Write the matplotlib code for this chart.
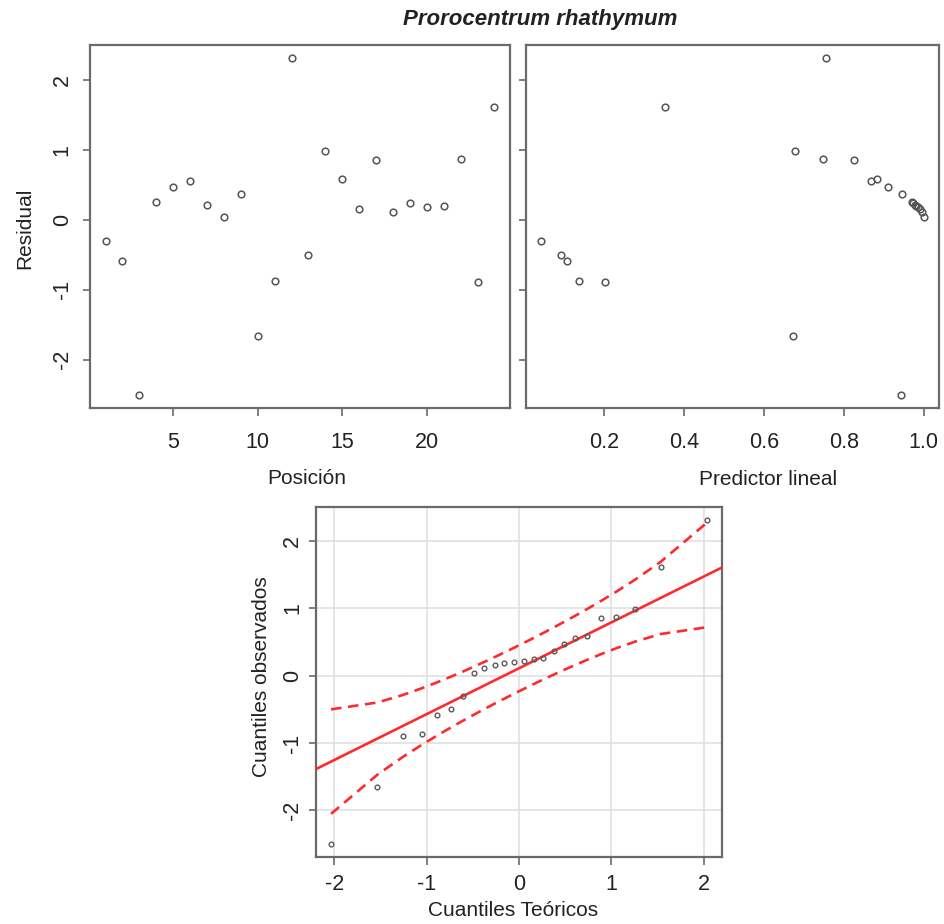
import numpy as np
import matplotlib
matplotlib.use("Agg")
import matplotlib.pyplot as plt
from statistics import NormalDist

# ---------------- data ----------------
posicion = list(range(1, 25))
residual = [-0.30, -0.59, -2.50, 0.26, 0.47, 0.56, 0.21, 0.04, 0.37, -1.66,
            -0.87, 2.31, -0.50, 0.99, 0.59, 0.16, 0.85, 0.11, 0.24, 0.19,
            0.20, 0.87, -0.89, 1.61]
predictor = [0.042, 0.107, 0.9425, 0.970, 0.911, 0.869, 0.977, 1.000, 0.945, 0.673,
             0.137, 0.755, 0.092, 0.6775, 0.883, 0.990, 0.825, 0.995, 0.973, 0.985,
             0.981, 0.748, 0.201, 0.352]
ticks_pos = [5, 10, 15, 20]
ticks_pred = [0.2, 0.4, 0.6, 0.8, 1.0]
tick_labels_pred = ["0.2", "0.4", "0.6", "0.8", "1.0"]
ticks_res = [-2, -1, 0, 1, 2]
ticks_qq = [-2, -1, 0, 1, 2]

title = "Prorocentrum rhathymum"

# ---------------- style ----------------
plt.rcParams['font.family'] = ['Liberation Sans', 'DejaVu Sans']
plt.rcParams['axes.unicode_minus'] = False
W, H = 945, 924
DPI = 100
TXT = '#222222'
FRAME = '#6a6a6a'
PX = 72.0 / DPI  # points per pixel

fig = plt.figure(figsize=(W / DPI, H / DPI), dpi=DPI)


def ax_px(l, t, r, b):
    return fig.add_axes([l / W, 1 - b / H, (r - l) / W, (b - t) / H])


def style(ax, ypad, xpad):
    for s in ax.spines.values():
        s.set_color(FRAME)
        s.set_linewidth(1.6)
    ax.tick_params(direction='out', length=7.5 * PX, width=1.2,
                   color=FRAME, labelsize=15.5, labelcolor=TXT)
    ax.tick_params(axis='y', pad=ypad)
    ax.tick_params(axis='x', pad=xpad)


def padded(lo, hi):
    d = (hi - lo) * 0.04
    return lo - d, hi + d


ylim = padded(min(residual), max(residual))

# ---- top-left: residual vs position ----
ax1 = ax_px(90, 45, 510, 408)
ax1.plot(posicion, residual, 'o', mfc='none', mec='#555555', mew=1.1, ms=4.8)
ax1.set_xlim(*padded(min(posicion), max(posicion)))
ax1.set_ylim(*ylim)
ax1.set_xticks(ticks_pos)
ax1.set_yticks(ticks_res)
ax1.set_yticklabels([str(t) for t in ticks_res], rotation=90, va='center')
style(ax1, 7, 12)

# ---- top-right: residual vs linear predictor ----
ax2 = ax_px(526, 45, 939, 408)
ax2.plot(predictor, residual, 'o', mfc='none', mec='#555555', mew=1.1, ms=4.8)
ax2.set_xlim(*padded(min(predictor), max(predictor)))
ax2.set_ylim(*ylim)
ax2.set_xticks(ticks_pred)
ax2.set_xticklabels(tick_labels_pred)
ax2.set_yticks(ticks_res)
ax2.set_yticklabels([])
style(ax2, 7, 12)

# ---- bottom: QQ plot ----
n = len(residual)
nd = NormalDist()
obs = np.sort(np.array(residual))
P = (np.arange(1, n + 1) - 0.5) / n
z = np.array([nd.inv_cdf(p) for p in P])
q1, q3 = np.quantile(obs, [0.25, 0.75])
slope = (q3 - q1) / (nd.inv_cdf(0.75) - nd.inv_cdf(0.25))
intercept = q1 - slope * nd.inv_cdf(0.25)
dz = np.array([nd.pdf(v) for v in z])
se = (slope / dz) * np.sqrt(P * (1 - P) / n)
fit = intercept + slope * z
zc = nd.inv_cdf(0.975)
upper = fit + zc * se
lower = fit - zc * se

ax3 = ax_px(316, 507, 722, 857)
xl = padded(z.min(), z.max())
ax3.set_xlim(*xl)
ax3.set_ylim(*padded(obs.min(), obs.max()))
ax3.set_xticks(ticks_qq)
ax3.set_xticklabels([str(t) for t in ticks_qq])
ax3.set_yticks(ticks_qq)
ax3.set_yticklabels([str(t) for t in ticks_qq], rotation=90, va='center')
ax3.grid(True, color='#e0e0e0', lw=1.2)
ax3.set_axisbelow(True)
xx = np.array(xl)
ax3.plot(xx, intercept + slope * xx, color='#ff2a2a', lw=1.9, zorder=3)
ax3.plot(z, upper, color='#ff2a2a', lw=1.9, ls=(0, (4, 2.5)), zorder=3)
ax3.plot(z, lower, color='#ff2a2a', lw=1.9, ls=(0, (4, 2.5)), zorder=3)
ax3.plot(z, obs, 'o', mfc='none', mec='#5a5a5a', mew=1.0, ms=3.4, zorder=4)
style(ax3, 4, 7)

# ---- labels ----
def ftext(x, y, s, **kw):
    fig.text(x / W, 1 - y / H, s, ha='center', va='center', color=TXT, **kw)

ftext(540, 20, title, fontsize=16, fontweight='bold', fontstyle='italic')
ftext(25, 228, "Residual", fontsize=15, rotation=90)
ftext(307, 479, "Posición", fontsize=15)
ftext(768, 480, "Predictor lineal", fontsize=15)
ftext(262, 677, "Cuantiles observados", fontsize=15, rotation=90)
ftext(513, 910, "Cuantiles Teóricos", fontsize=15)

fig.savefig("out.png", dpi=DPI, facecolor='white')
